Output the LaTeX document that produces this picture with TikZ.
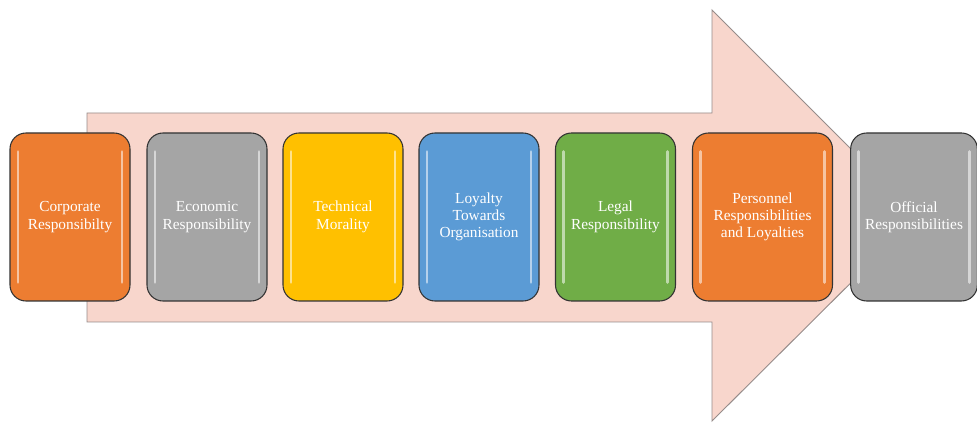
\documentclass[tikz,border=0pt]{standalone}
\usepackage{fontspec}
\setmainfont{Liberation Serif}
\usepackage{xcolor}

\definecolor{arrowfill}{RGB}{248,214,204}
\definecolor{arrowedge}{RGB}{150,140,138}
\definecolor{boxorange}{RGB}{237,125,49}
\definecolor{boxgrey}{RGB}{165,165,165}
\definecolor{boxyellow}{RGB}{255,192,0}
\definecolor{boxblue}{RGB}{91,155,213}
\definecolor{boxgreen}{RGB}{112,173,71}

\tikzset{
    stage/.style={draw=black!80, line width=0.8pt, rounded corners=12pt,
        minimum width=90pt, minimum height=126pt, text=white, align=center,
        font=\fontsize{11.5}{13}\selectfont, inner sep=1pt,
        path picture={
            \draw[white, opacity=0.55, line width=2.2pt, line cap=round]
                ([xshift=6pt,yshift=-14pt]path picture bounding box.north west) --
                ([xshift=6pt,yshift=14pt]path picture bounding box.south west);
            \draw[white, opacity=0.55, line width=2.2pt, line cap=round]
                ([xshift=-6pt,yshift=-14pt]path picture bounding box.north east) --
                ([xshift=-6pt,yshift=14pt]path picture bounding box.south east);
        }}
}

\begin{document}
\begin{tikzpicture}[x=0.75pt, y=-0.75pt]
        \useasboundingbox (0,0) rectangle (977,423);
        % Big arrow behind the stages
        \draw[fill=arrowfill, draw=arrowedge, line width=0.7pt]
            (87,113) -- (712,113) -- (712,10) -- (918,216) -- (712,421)
            -- (712,322) -- (87,322) -- cycle;
        % Stages
        \node[stage, fill=boxorange] (corp) at (70,217) {Corporate\\Responsibilty};
        \node[stage, fill=boxgrey] (econ) at (207,217) {Economic\\Responsibility};
        \node[stage, fill=boxyellow] (tech) at (343,217) {Technical\\Morality};
        \node[stage, fill=boxblue] (loyal) at (479,217) {Loyalty\\Towards\\Organisation};
        \node[stage, fill=boxgreen] (legal) at (615.5,217) {Legal\\Responsibility};
        \node[stage, fill=boxorange, minimum width=105pt] (pers) at (762.5,217) {Personnel\\Responsibilities\\and Loyalties};
        \node[stage, fill=boxgrey, minimum width=95pt] (offic) at (914,217) {Official\\Responsibilities};
    \end{tikzpicture}
\end{document}
